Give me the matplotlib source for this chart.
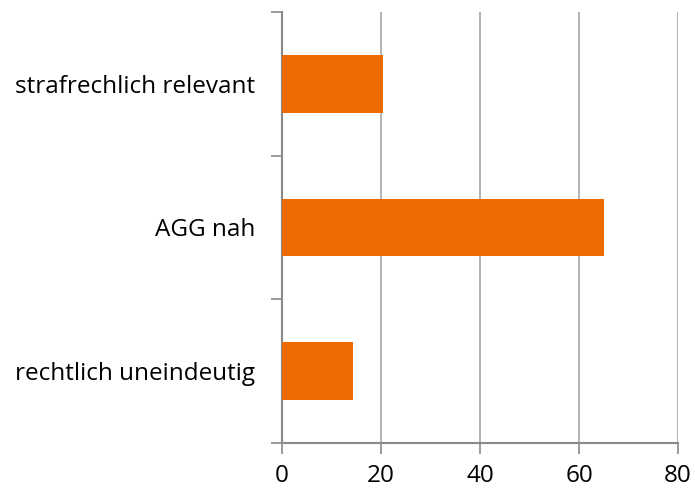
import matplotlib
matplotlib.use('Agg')
import matplotlib.pyplot as plt
import numpy as np

# data
categories = ['rechtlich uneindeutig', 'AGG nah', 'strafrechlich relevant']
values = [14.3, 65.0, 20.4]
xticks = [0, 20, 40, 60, 80]

plt.rcParams['font.family'] = ['Open Sans', 'DejaVu Sans']

fig = plt.figure(figsize=(6.95, 4.92), dpi=100)
ax = fig.add_axes([282/695, 1-443/492, (678-282)/695, (443-12)/492])

pos = np.arange(len(categories))
ax.barh(pos, values, height=0.4, color='#ED6A00', zorder=3)

ax.set_xlim(0, 80)
ax.set_ylim(-0.5, len(categories)-0.5)
ax.set_xticks(xticks)
ax.set_xticklabels([str(t) for t in xticks], fontsize=17.5)
ax.set_yticks(pos)
ax.set_yticklabels(categories, fontsize=17.5)
ax.set_yticks(np.arange(-0.5, len(categories), 1.0), minor=True)

ax.tick_params(axis='y', which='major', length=0, pad=19.5)
ax.tick_params(axis='y', which='minor', length=8, width=1.2, color='#8a8a8a', direction='out')
ax.tick_params(axis='x', length=8, width=1.2, color='#8a8a8a', direction='out', pad=7)

ax.grid(axis='x', color='#a6a6a6', linewidth=1.2, zorder=0)
for s in ['top', 'right']:
    ax.spines[s].set_visible(False)
for s in ['left', 'bottom']:
    ax.spines[s].set_color('#8a8a8a')
    ax.spines[s].set_linewidth(1.5)

fig.savefig('out.png', dpi=100)
